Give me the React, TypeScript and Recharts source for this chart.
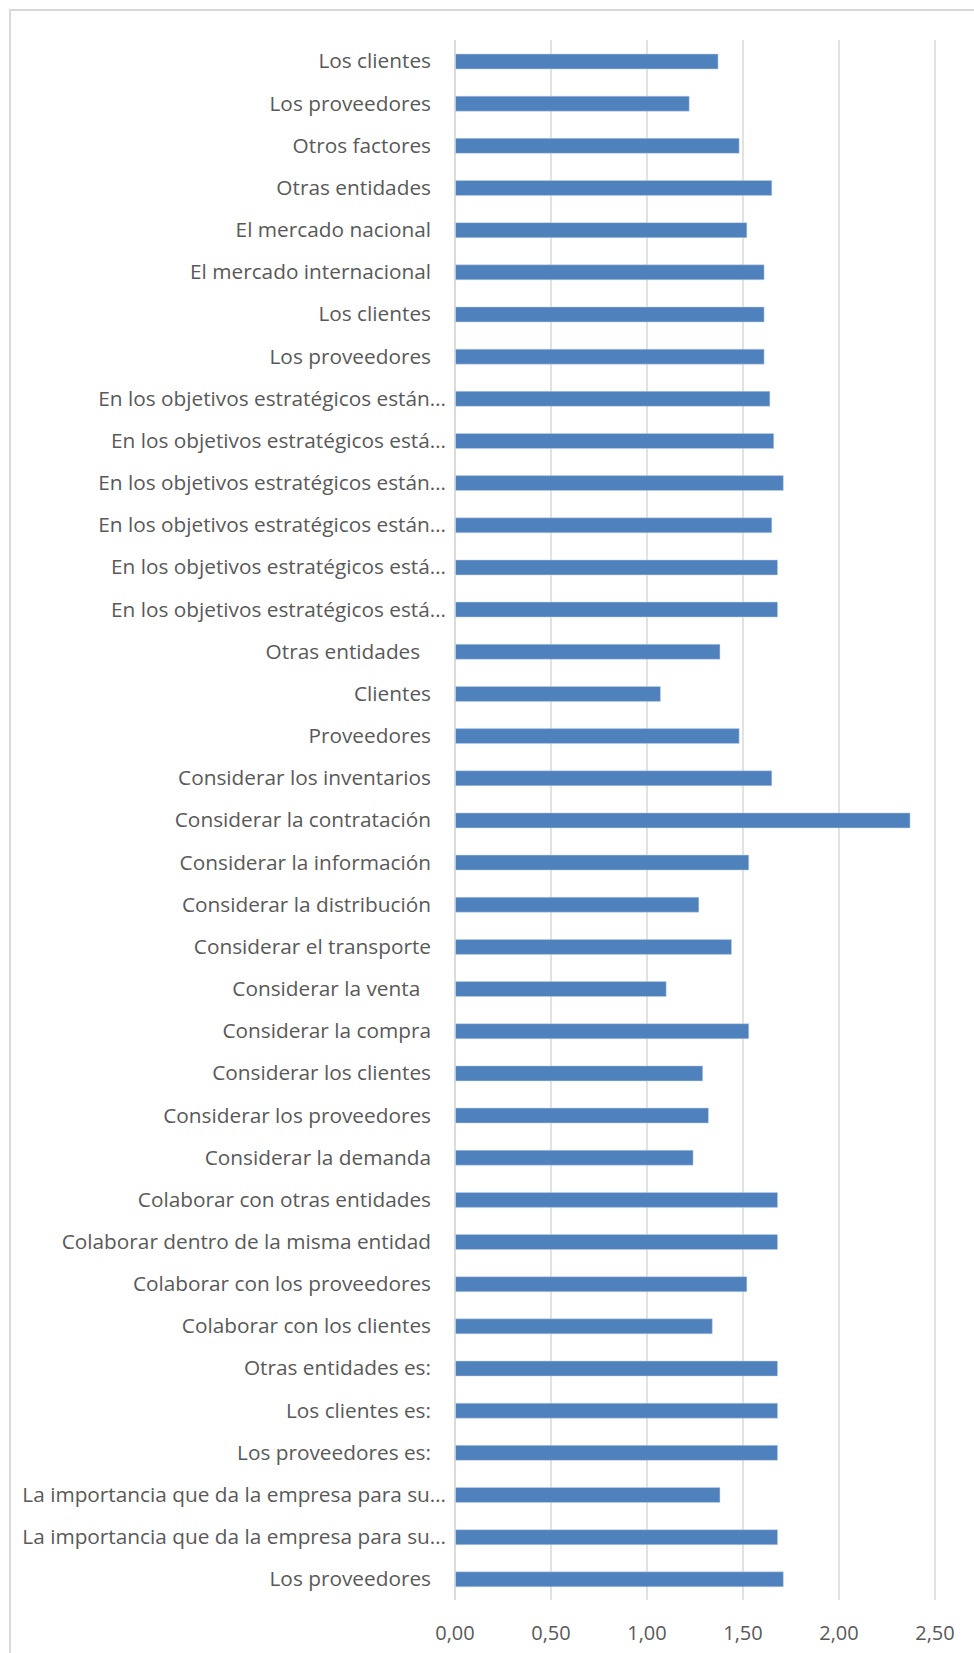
import { BarChart, Bar, XAxis, YAxis, CartesianGrid } from "recharts"

const categories = [
  "Los clientes",
  "Los proveedores",
  "Otros factores",
  "Otras entidades",
  "El mercado nacional",
  "El mercado internacional",
  "Los clientes",
  "Los proveedores",
  "En los objetivos estratégicos están…",
  "En los objetivos estratégicos está…",
  "En los objetivos estratégicos están…",
  "En los objetivos estratégicos están…",
  "En los objetivos estratégicos está…",
  "En los objetivos estratégicos está…",
  "Otras entidades  ",
  "Clientes",
  "Proveedores",
  "Considerar los inventarios",
  "Considerar la contratación",
  "Considerar la información",
  "Considerar la distribución",
  "Considerar el transporte",
  "Considerar la venta  ",
  "Considerar la compra",
  "Considerar los clientes",
  "Considerar los proveedores",
  "Considerar la demanda",
  "Colaborar con otras entidades",
  "Colaborar dentro de la misma entidad",
  "Colaborar con los proveedores",
  "Colaborar con los clientes",
  "Otras entidades es:",
  "Los clientes es:",
  "Los proveedores es:",
  "La importancia que da la empresa para su…",
  "La importancia que da la empresa para su…",
  "Los proveedores",
]

const values = [
  1.37, 1.22, 1.48, 1.65, 1.52, 1.61, 1.61, 1.61, 1.64, 1.66, 1.71, 1.65, 1.68,
  1.68, 1.38, 1.07, 1.48, 1.65, 2.37, 1.53, 1.27, 1.44, 1.1, 1.53, 1.29, 1.32,
  1.24, 1.68, 1.68, 1.52, 1.34, 1.68, 1.68, 1.68, 1.38, 1.68, 1.71,
]

const xTicks = [0, 0.5, 1, 1.5, 2, 2.5]

const data = categories.map((name, i) => ({ id: i, name, value: values[i] }))

const FONT = "'Open Sans', sans-serif"
const TEXT = "#595959"

function CategoryTick(props: any) {
  const { x, y, index } = props
  const label = categories[index]
  const cut = label.endsWith("…")
  return (
    <text
      x={cut ? x - 7 : x - 22}
      y={y}
      dy="0.355em"
      textAnchor="end"
      fill={TEXT}
      fontSize={20.8}
      fontFamily={FONT}
      style={{ whiteSpace: "pre" }}
    >
      {label}
    </text>
  )
}

export default function App() {
  return (
    <div
      style={{
        position: "absolute",
        left: 0,
        top: 0,
        width: 974,
        height: 1653,
        overflow: "hidden",
        background: "#fff",
      }}
    >
      <div
        style={{
          position: "absolute",
          left: 9,
          top: 9,
          width: 990,
          height: 1700,
          border: "2px solid #d9d9d9",
        }}
      />
      <BarChart
        layout="vertical"
        width={974}
        height={1653}
        data={data}
        margin={{ top: 40, right: 39, bottom: 0, left: 0 }}
        barCategoryGap="32%"
        style={{ position: "absolute", left: 0, top: 0 }}
      >
        <CartesianGrid
          horizontal={false}
          stroke="#d9d9d9"
          strokeWidth={1.5}
        />
        <XAxis
          type="number"
          domain={[0, 2.5]}
          ticks={xTicks}
          height={53}
          axisLine={false}
          tickLine={false}
          tickSize={0}
          tickMargin={26}
          tick={{ fill: TEXT, fontSize: 20, fontFamily: FONT }}
          tickFormatter={(v: number) => v.toFixed(2).replace(".", ",")}
        />
        <YAxis
          type="category"
          dataKey="id"
          width={455}
          axisLine={{ stroke: "#d9d9d9", strokeWidth: 1.5 }}
          tickLine={false}
          tickSize={0}
          interval={0}
          tick={<CategoryTick />}
        />
        <Bar
          dataKey="value"
          fill="#4f81bd"
          stroke="#c5d5ea"
          strokeWidth={0.5}
          barSize={15}
          isAnimationActive={false}
        />
      </BarChart>
    </div>
  )
}
